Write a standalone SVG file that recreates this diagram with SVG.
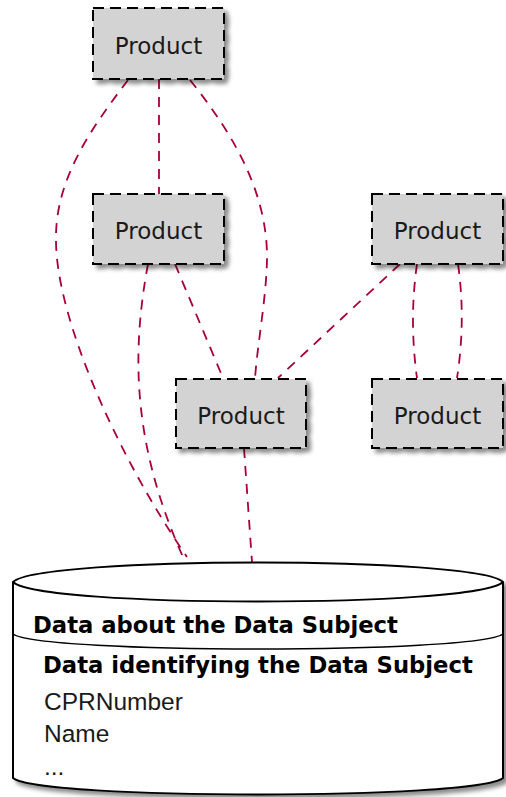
<svg xmlns="http://www.w3.org/2000/svg" width="506" height="797" viewBox="0 0 506 797">
<style>
.box{fill:#d3d3d3;stroke:#000;stroke-width:2;stroke-dasharray:11,6}
.lbl{font-family:"DejaVu Sans",sans-serif;font-size:23px;fill:#1a1a1a;text-anchor:middle}
.conn{fill:none;stroke:#a80036;stroke-width:1.8;stroke-dasharray:10,8}
.bold{font-family:"DejaVu Sans",sans-serif;font-weight:bold;font-size:22.7px;fill:#000}
.attr{font-family:"Liberation Sans",Arial,sans-serif;font-size:24.5px;fill:#1a1a1a}
</style>
<defs>
<filter id="sh" x="-10%" y="-10%" width="130%" height="140%">
<feGaussianBlur in="SourceAlpha" stdDeviation="2"/>
<feOffset dx="4" dy="4" result="b"/>
<feFlood flood-color="#000" flood-opacity="0.45"/>
<feComposite in2="b" operator="in" result="s"/>
<feMerge><feMergeNode in="s"/><feMergeNode in="SourceGraphic"/></feMerge>
</filter>
</defs>
<rect width="506" height="797" fill="#fff"/>
<g id="connectors">
<path class="conn" d="M128,80 C90,130 55,180 56,240 C56,320 120,460 187,557"/>
<path class="conn" d="M159,79 L159,194"/>
<path class="conn" d="M190,80 C230,130 268,190 267,260 C266,300 258,340 255,378"/>
<path class="conn" d="M148,264 C130,360 135,450 183,557"/>
<path class="conn" d="M175,264 L223,378"/>
<path class="conn" d="M400,264 L278,378"/>
<path class="conn" d="M417,264 Q409,320 417,378"/>
<path class="conn" d="M458,264 Q466,320 457,378"/>
<path class="conn" d="M244,448 L252,562"/>
</g>
<g id="db">
<path d="M13,582 C40,556 476,556 503,582 L503,778 C476,800 40,800 13,778 Z" fill="#fff" stroke="#000" stroke-width="2" filter="url(#sh)"/>
<path d="M13,582 C40,608 476,608 503,582" fill="none" stroke="#000" stroke-width="2"/>
<path d="M13,634 C40,654 476,654 503,634" fill="none" stroke="#000" stroke-width="1.5"/>
<text class="bold" x="33" y="633">Data about the Data Subject</text>
<text class="bold" x="43" y="673">Data identifying the Data Subject</text>
<text class="attr" x="44" y="710">CPRNumber</text>
<text class="attr" x="44" y="742">Name</text>
<text class="attr" x="44" y="775">...</text>
</g>
<g id="p1"><rect class="box" x="93" y="8" width="131" height="71" filter="url(#sh)"/><text class="lbl" x="158.5" y="54">Product</text></g>
<g id="p2"><rect class="box" x="93" y="194" width="131" height="70" filter="url(#sh)"/><text class="lbl" x="158.5" y="239">Product</text></g>
<g id="p3"><rect class="box" x="372" y="194" width="131" height="70" filter="url(#sh)"/><text class="lbl" x="437.5" y="239">Product</text></g>
<g id="p4"><rect class="box" x="176" y="379" width="130" height="69" filter="url(#sh)"/><text class="lbl" x="241" y="424">Product</text></g>
<g id="p5"><rect class="box" x="372" y="379" width="131" height="69" filter="url(#sh)"/><text class="lbl" x="437.5" y="424">Product</text></g>
</svg>
